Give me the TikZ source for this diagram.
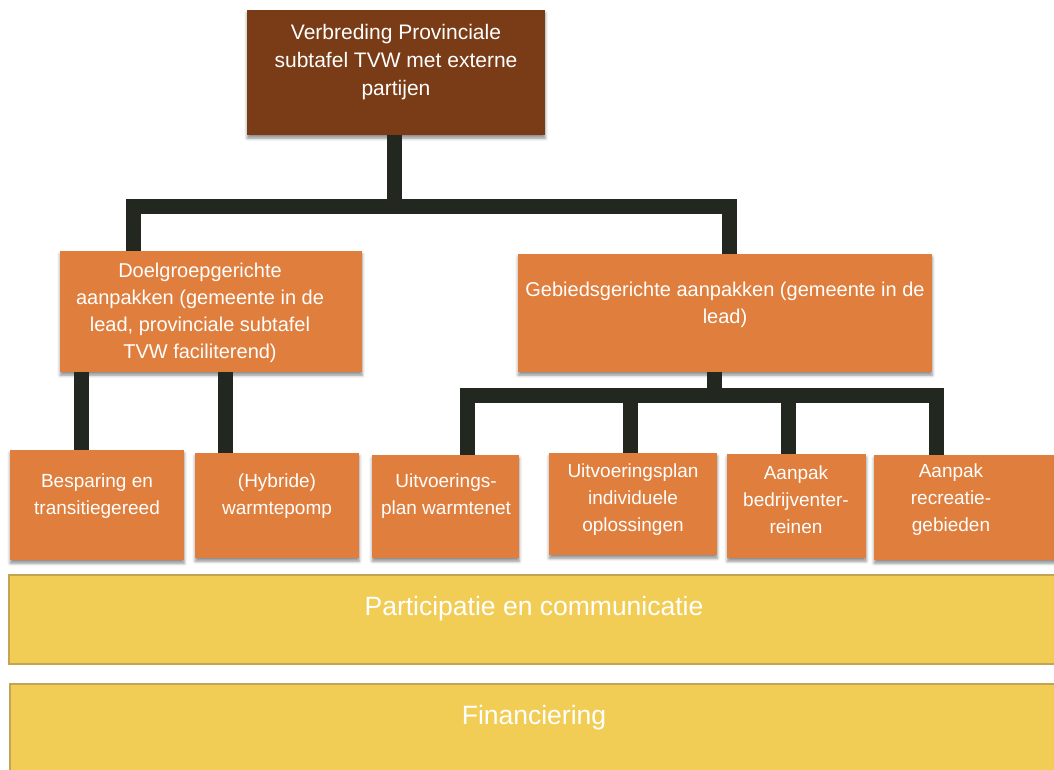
\documentclass[tikz,border=0pt]{standalone}
\usepackage{fontspec}
\setmainfont{Liberation Sans}
\usetikzlibrary{shadows.blur}
\definecolor{brownbox}{HTML}{7A3C16}
\definecolor{orangebox}{HTML}{DF7E3D}
\definecolor{yellowbox}{HTML}{F2CD55}
\definecolor{yellowedge}{HTML}{C2A452}
\definecolor{connector}{HTML}{22271F}
\tikzset{
  box/.style={rectangle, inner sep=0pt, anchor=north west, draw=none,
    blur shadow={shadow xshift=0pt, shadow yshift=-3pt, shadow blur radius=3pt, shadow opacity=45}},
  topbox/.style={box, fill=brownbox},
  orbox/.style={box, fill=orangebox},
  ybox/.style={rectangle, inner sep=0pt, anchor=north west, fill=yellowbox, draw=yellowedge, line width=1.5pt},
  lbl/.style={text=white, align=center, inner sep=0pt},
  toplbl/.style={lbl, font=\fontsize{21}{28}\selectfont},
  midlbl/.style={lbl, font=\fontsize{20}{27}\selectfont},
  botlbl/.style={lbl, font=\fontsize{19}{27}\selectfont},
  ylbl/.style={lbl, font=\fontsize{26.5}{30}\selectfont},
  conn/.style={draw=connector, line width=15pt},
}
\begin{document}
\begin{tikzpicture}[x=1pt,y=-1pt]
\useasboundingbox (0,0) rectangle (1054,769);
% boxes
\node[topbox, minimum width=298pt, minimum height=125pt] (top) at (247,10) {};
\node[orbox, minimum width=302pt, minimum height=121pt] (lmid) at (60,251) {};
\node[orbox, minimum width=414pt, minimum height=118pt] (rmid) at (518,254) {};
\node[orbox, minimum width=174pt, minimum height=110pt] (b1) at (10,450) {};
\node[orbox, minimum width=164pt, minimum height=105pt] (b2) at (195,453) {};
\node[orbox, minimum width=147pt, minimum height=103pt] (b3) at (372,455) {};
\node[orbox, minimum width=168pt, minimum height=102pt] (b4) at (549,453) {};
\node[orbox, minimum width=139pt, minimum height=104pt] (b5) at (727,454) {};
\node[orbox, minimum width=185pt, minimum height=105pt] (b6) at (874,455) {};
\node[ybox, minimum width=1050pt, minimum height=89pt] (y1) at (8,574) {};
\node[ybox, minimum width=1050pt, minimum height=90pt] (y2) at (9,683) {};
% connector coordinates
\coordinate (barL) at (133,206);
\coordinate (barR) at (729,206);
\coordinate (barC) at (394,206);
\coordinate (lmidA) at (81,372);
\coordinate (lmidB) at (225,372);
\coordinate (rbarL) at (467,395);
\coordinate (rbarR) at (936,395);
\coordinate (rstem) at (714,372);
\coordinate (rbarB) at (630,395);
\coordinate (rbarC) at (788,395);
% connectors
\draw[conn] (top.south -| barC) -- (barC);
\draw[conn, line cap=rect] (barL) -- (barR);
\draw[conn] (barL) -- (barL |- lmid.north);
\draw[conn] (barR) -- (barR |- rmid.north);
\draw[conn] (lmidA) -- (lmidA |- b1.north);
\draw[conn] (lmidB) -- (lmidB |- b2.north);
\draw[conn] (rstem) -- (rstem |- rbarL);
\draw[conn, line cap=rect] (rbarL) -- (rbarR);
\draw[conn] (rbarL) -- (rbarL |- b3.north);
\draw[conn] (rbarB) -- (rbarB |- b4.north);
\draw[conn] (rbarC) -- (rbarC |- b5.north);
\draw[conn] (rbarR) -- (rbarR |- b6.north);
% labels
\node[toplbl] (ttop) at (396,62.5) {Verbreding Provinciale\\subtafel TVW met externe\\partijen};
\node[midlbl] (tlmid) at (200,313) {Doelgroepgerichte\\aanpakken (gemeente in de\\lead, provinciale subtafel\\TVW faciliterend)};
\node[midlbl] (trmid) at (725,304.5) {Gebiedsgerichte aanpakken (gemeente in de\\lead)};
\node[botlbl] (tb1) at (97,496.5) {Besparing en\\transitiegereed};
\node[botlbl] (tb2) at (277,496.5) {(Hybride)\\warmtepomp};
\node[botlbl] (tb3) at (446,496.5) {Uitvoerings-\\plan warmtenet};
\node[botlbl] (tb4) at (633,500) {Uitvoeringsplan\\individuele\\oplossingen};
\node[botlbl] (tb5) at (796,500) {Aanpak\\bedrijventer-\\reinen};
\node[botlbl] (tb6) at (951,500) {Aanpak\\recreatie-\\gebieden};
\node[ylbl] (ty1) at (534,609) {Participatie en communicatie};
\node[ylbl] (ty2) at (534,718) {Financiering};
\end{tikzpicture}
\end{document}
